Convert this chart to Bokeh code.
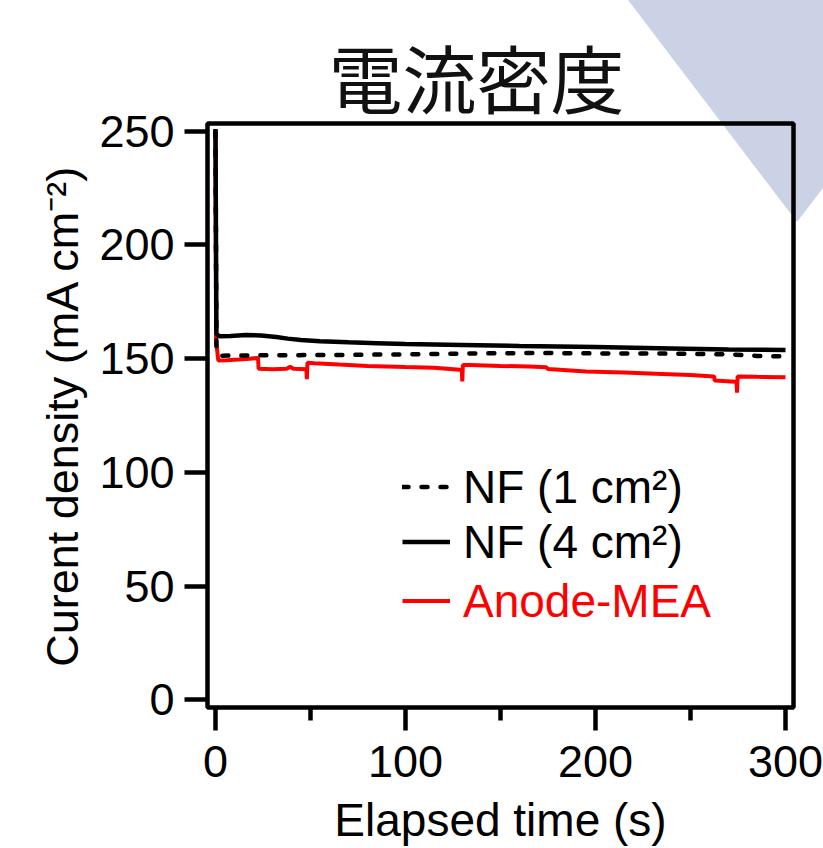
from urllib.parse import quote
from bokeh.plotting import figure
from bokeh.models import Range1d, Legend, LegendItem, FixedTicker, LinearAxis
from bokeh.embed import file_html
from bokeh.resources import INLINE

# ---- texts ----
TITLE = "電流密度"
X_LABEL = "Elapsed time (s)"
Y_LABEL = "Curent density (mA cm\u207b\u00b2)"
X_TICKS = [0, 100, 200, 300]
X_MINOR_TICKS = [50, 150, 250]
Y_TICKS = [0, 50, 100, 150, 200, 250]
LABEL_NF1 = "NF (1 cm\u00b2)"
LABEL_NF4 = "NF (4 cm\u00b2)"
LABEL_MEA = "Anode-MEA"

# ---- data ----
nf1_time = [0, 0.5, 2, 30, 60, 100, 140, 170, 200, 240, 270, 285, 300]
nf1_j = [250, 155, 151.3, 151.5, 151.6, 151.9, 152.3, 152.5, 152.3, 152.2, 151.9, 151.2, 151.0]

nf4_time = [0, 0.5, 2, 8, 16, 24, 32, 38, 45, 55, 70, 85, 100, 130, 160, 200, 240, 270, 300]
nf4_j = [251, 161, 159.8, 160.0, 160.4, 160.2, 159.5, 158.8, 158.2, 157.7, 157.2, 156.8,
         156.4, 156.0, 155.6, 155.1, 154.5, 154.0, 153.8]

mea_time = [0, 0.3, 1.5, 6, 12, 18, 22.4, 22.7, 30, 37.5,
            39.3, 41, 47.8, 48.1, 48.4, 52, 65, 80, 100, 115,
            127, 129.6, 129.9, 130.2, 134, 150, 165, 174, 175, 195,
            215, 235, 250, 262.4, 262.7, 273.5, 274.2, 274.5, 274.8, 285,
            300]
mea_j = [250, 158, 149.2, 149.3, 149.6, 150.0, 150.3, 145.6, 145.3, 145.6,
         146.4, 145.6, 145.3, 141.0, 148.2, 148.0, 147.4, 146.8, 146.3, 146.0,
         145.2, 145.0, 140.0, 147.2, 147.2, 146.8, 146.5, 146.2, 145.4, 144.4,
         143.9, 143.3, 142.8, 142.2, 140.4, 139.8, 139.6, 135.0, 142.2, 142.0,
         141.8]

# decorative background shape (page pixels)
BG_X = [628, 797, 823, 823]
BG_Y = [0, 222, 188, 0]
BG_COLOR = "#ccd2e6"

FONT = "Liberation Sans"

p = figure(width=823, height=848, output_backend="svg", toolbar_location=None,
           x_range=Range1d(-4.2, 304.2), y_range=Range1d(-3.4, 253.4),
           min_border_left=207, min_border_right=30, min_border_top=123,
           min_border_bottom=140)
p.grid.visible = False
p.background_fill_color = None
p.border_fill_color = None
p.outline_line_color = "black"
p.outline_line_width = 4.5

# decorative background triangle behind the (transparent) canvas
pts = " ".join(f"{x},{y}" for x, y in zip(BG_X, BG_Y))
svg_bg = (f"<svg xmlns='http://www.w3.org/2000/svg' width='823' height='848'>"
          f"<polygon points='{pts}' fill='{BG_COLOR}'/></svg>")
p.styles = {
    "background-color": "white",
    "background-image": f'url("data:image/svg+xml,{quote(svg_bg)}")',
    "background-repeat": "no-repeat",
    "background-position": "0 0",
}

xa = p.below[0]
ya = p.left[0]

# title
p.title.text = TITLE
p.title.text_font = "Liberation Sans, Noto Sans CJK JP"
p.title.text_font_size = "74px"
p.title.text_font_style = "normal"
p.title.text_color = "#111111"
p.title.align = "left"
p.title.offset = 121
p.title.standoff = 0
p.title.vertical_align = "bottom"

# empty top axis (no ticks at all): only keeps a gap between title and frame
gap_axis = LinearAxis(ticker=FixedTicker(ticks=[], minor_ticks=[]),
                      axis_line_color=None, major_tick_line_color="black",
                      minor_tick_line_color=None, major_tick_in=0, minor_tick_in=0,
                      major_tick_out=30, minor_tick_out=0, major_label_standoff=0,
                      major_label_text_font_size="1px")
p.add_layout(gap_axis, "above")

xa.ticker = FixedTicker(ticks=X_TICKS, minor_ticks=X_MINOR_TICKS)
ya.ticker = FixedTicker(ticks=Y_TICKS, minor_ticks=[])
xa.axis_label = X_LABEL
ya.axis_label = Y_LABEL
for ax in (xa, ya):
    ax.axis_line_color = None
    ax.major_tick_line_color = "black"
    ax.minor_tick_line_color = "black"
    ax.major_tick_line_width = 4.5
    ax.minor_tick_line_width = 4.5
    ax.major_tick_in = 0
    ax.minor_tick_in = 0
    ax.major_tick_out = 23
    ax.major_label_text_font = FONT
    ax.major_label_text_font_size = "45px"
    ax.major_label_text_color = "black"
    ax.axis_label_text_font = FONT
    ax.axis_label_text_font_style = "normal"
    ax.axis_label_text_color = "black"
xa.axis_label_text_font_size = "46px"
ya.axis_label_text_font_size = "45px"
xa.minor_tick_out = 13
xa.major_label_standoff = 15
xa.axis_label_standoff = 14
ya.major_label_standoff = 10
ya.axis_label_standoff = 8

# data lines
r_mea = p.line(mea_time, mea_j, line_color="#ff0000", line_width=4)
r_nf1 = p.line(nf1_time, nf1_j, line_color="black", line_width=4.5,
               line_dash="6 13", line_cap="round")
r_nf4 = p.line(nf4_time, nf4_j, line_color="black", line_width=4.5)


def make_legend(items, loc, color):
    lg = Legend(items=items, location=loc, border_line_color=None,
                background_fill_alpha=0, padding=0, margin=0, spacing=0,
                glyph_width=48, glyph_height=55, label_height=55,
                label_standoff=13, label_text_font=FONT,
                label_text_font_size="46px", label_text_color=color)
    p.add_layout(lg)
    return lg


make_legend([LegendItem(label=LABEL_NF1, renderers=[r_nf1]),
             LegendItem(label=LABEL_NF4, renderers=[r_nf4])], (195, 138), "black")
make_legend([LegendItem(label=LABEL_MEA, renderers=[r_mea])], (195, 79), "#ff0000")

open("out.html", "w").write(file_html(p, INLINE))
